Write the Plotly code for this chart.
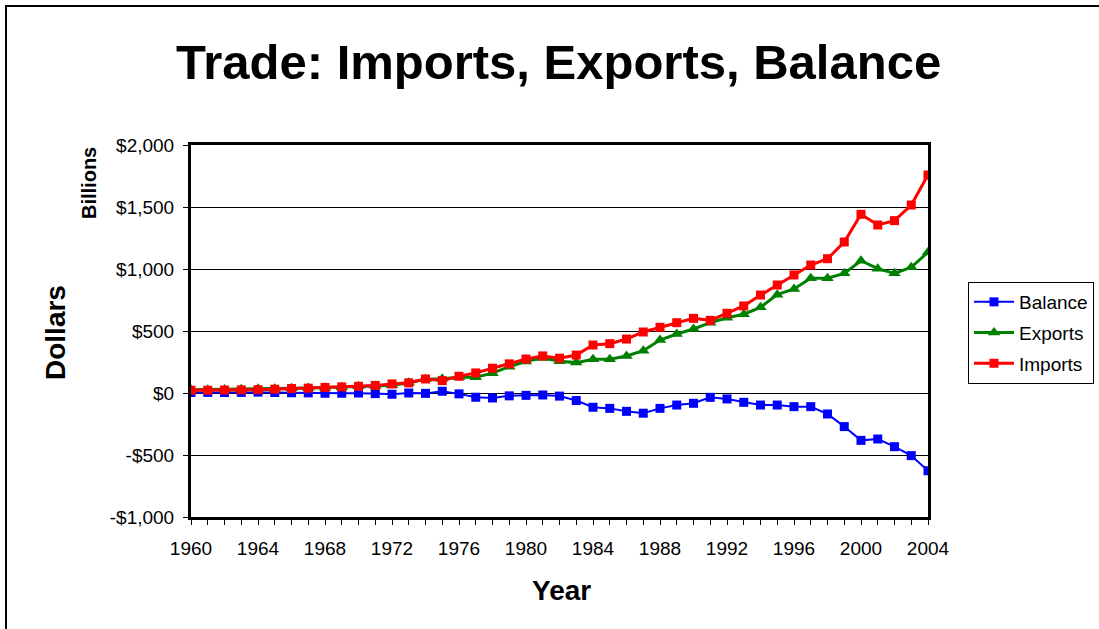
import plotly.graph_objects as go

years = list(range(1960, 2005))

balance = [4, 5, 4, 5, 7, 4, 2, 1, -2, -2, 0, -5, -10, 0, -3, 14, -7, -34, -40, -23,
           -19, -16, -25, -61, -115, -124, -148, -163, -124, -97, -83, -35, -48, -75, -97,
           -97, -110, -110, -169, -271, -382, -371, -433, -505, -627]
exports = [26, 27, 28, 30, 34, 35, 38, 40, 43, 47, 54, 56, 63, 82, 110, 114, 128, 128, 160, 212,
           255, 283, 256, 245, 272, 272, 298, 341, 427, 476, 516, 567, 607, 635, 691,
           793, 839, 925, 925, 965, 1067, 1003, 965, 1014, 1135]
imports = [22, 22, 24, 25, 27, 31, 36, 39, 45, 49, 54, 61, 73, 82, 113, 100, 135, 162, 200, 235,
           274, 299, 281, 306, 387, 398, 435, 492, 530, 567, 602, 586, 643, 702, 790,
           871, 952, 1032, 1083, 1218, 1441, 1355, 1390, 1516, 1758]

y_tickvals = [-1000, -500, 0, 500, 1000, 1500, 2000]
y_ticktext = ["-$1,000", "-$500", "$0", "$500", "$1,000", "$1,500", "$2,000"]

FONT = "Liberation Sans, Arial, sans-serif"
W, H = 1099, 629
L, R, T, B = 191, 928, 145, 517


def px(x):
    return (x - L) / (R - L)


def py(y):
    return (B - y) / (B - T)


fig = go.Figure()
fig.add_trace(go.Scatter(x=years, y=balance, name="Balance", mode="lines+markers",
                         line=dict(color="#0000FF", width=2),
                         marker=dict(symbol="square", size=9, color="#0000FF"),
                         legendgroup="b"))
fig.add_trace(go.Scatter(x=years, y=exports, name="Exports", mode="lines+markers",
                         line=dict(color="#008000", width=3),
                         marker=dict(symbol="triangle-up", size=11, color="#008000"),
                         legendgroup="e"))
fig.add_trace(go.Scatter(x=years, y=imports, name="Imports", mode="lines+markers",
                         line=dict(color="#FF0000", width=3),
                         marker=dict(symbol="square", size=9, color="#FF0000"),
                         legendgroup="i"))

fig.update_layout(
    width=W, height=H,
    margin=dict(l=L, r=W - R, t=T, b=H - B, pad=0, autoexpand=False),
    paper_bgcolor="white", plot_bgcolor="white",
    font=dict(family=FONT, color="black", size=19),
    showlegend=True,
    legend=dict(x=px(968), y=py(282), xanchor="left", yanchor="top",
                bordercolor="black", borderwidth=1, bgcolor="white",
                font=dict(family=FONT, size=19, color="black"),
                itemwidth=40, tracegroupgap=3, traceorder="grouped"),
    xaxis=dict(range=[1960, 2004], tickmode="linear", tick0=1960, dtick=4,
               ticks="outside", ticklen=5, tickcolor="black", tickwidth=1,
               ticklabelstandoff=7,
               minor=dict(dtick=1, tick0=1960, ticks="outside", ticklen=5,
                          tickcolor="black", showgrid=False),
               showgrid=False, zeroline=False,
               showline=True, linecolor="black", linewidth=3, mirror=True,
               tickfont=dict(family=FONT, size=19, color="black")),
    yaxis=dict(range=[-1000, 2000], tickmode="array", tickvals=y_tickvals, ticktext=y_ticktext,
               ticks="outside", ticklen=5, tickcolor="black", tickwidth=1,
               ticklabelstandoff=5,
               showgrid=True, gridcolor="black", gridwidth=1, zeroline=False,
               showline=True, linecolor="black", linewidth=3, mirror=True,
               tickfont=dict(family=FONT, size=19, color="black")),
    annotations=[
        dict(text="<b>Trade: Imports, Exports, Balance</b>", x=px(558), y=py(62),
             xref="paper", yref="paper", showarrow=False, xanchor="center", yanchor="middle",
             font=dict(family=FONT, size=49, color="black")),
        dict(text="<b>Dollars</b>", x=px(55), y=py(333), xref="paper", yref="paper",
             showarrow=False, textangle=-90, xanchor="center", yanchor="middle",
             font=dict(family=FONT, size=28, color="black")),
        dict(text="<b>Billions</b>", x=px(89), y=py(183), xref="paper", yref="paper",
             showarrow=False, textangle=-90, xanchor="center", yanchor="middle",
             font=dict(family=FONT, size=20, color="black")),
        dict(text="<b>Year</b>", x=px(561), y=py(590), xref="paper", yref="paper",
             showarrow=False, xanchor="center", yanchor="middle",
             font=dict(family=FONT, size=28, color="black")),
    ],
    shapes=[
        dict(type="rect", xref="paper", yref="paper",
             x0=px(6), x1=px(1110), y0=py(640), y1=py(6),
             line=dict(color="black", width=2), fillcolor="rgba(0,0,0,0)", layer="below"),
    ],
)

fig.write_html("out.html", config={"displayModeBar": False},
               post_script="document.body.style.margin='0px';")
